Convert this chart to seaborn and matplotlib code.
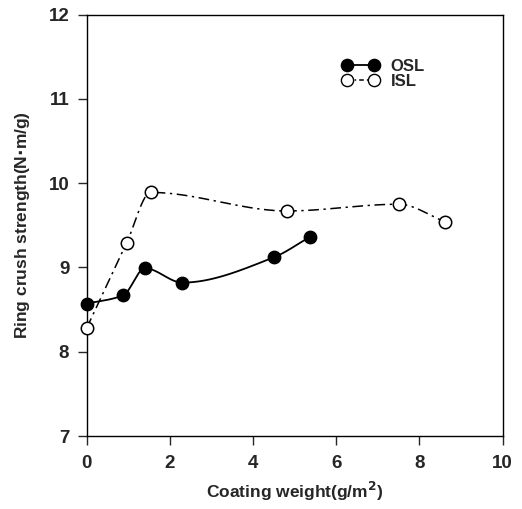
import matplotlib
matplotlib.use("Agg")
import matplotlib.pyplot as plt
from matplotlib.lines import Line2D
import numpy as np
import pandas as pd
import seaborn as sns

# values
osl_x = [0.0, 0.88, 1.40, 2.30, 4.50, 5.36]
osl_y = [8.57, 8.67, 8.99, 8.82, 9.12, 9.36]
isl_x = [0.0, 0.96, 1.54, 4.82, 7.50, 8.62]
isl_y = [8.28, 9.29, 9.89, 9.67, 9.75, 9.54]
x_ticks = [0, 2, 4, 6, 8, 10]
y_ticks = [7, 8, 9, 10, 11, 12]


def smooth(xs, ys, n=400):
    # monotone cubic (pchip) through the points, only to draw the curve
    x = np.asarray(xs, float)
    y = np.asarray(ys, float)
    h = np.diff(x)
    s = np.diff(y) / h
    k = len(x)
    d = np.zeros(k)
    for i in range(1, k - 1):
        if s[i - 1] * s[i] > 0:
            w1 = 2 * h[i] + h[i - 1]
            w2 = h[i] + 2 * h[i - 1]
            d[i] = (w1 + w2) / (w1 / s[i - 1] + w2 / s[i])
    d[0] = s[0]
    d[-1] = s[-1]
    xx = np.linspace(x[0], x[-1], n)
    idx = np.clip(np.searchsorted(x, xx) - 1, 0, k - 2)
    t = (xx - x[idx]) / h[idx]
    h00 = 2 * t ** 3 - 3 * t ** 2 + 1
    h10 = t ** 3 - 2 * t ** 2 + t
    h01 = -2 * t ** 3 + 3 * t ** 2
    h11 = t ** 3 - t ** 2
    yy = (h00 * y[idx] + h10 * h[idx] * d[idx] + h01 * y[idx + 1]
          + h11 * h[idx] * d[idx + 1])
    return pd.DataFrame({"x": xx, "y": yy})


sns.set_style("ticks")
plt.rcParams['font.family'] = ['Liberation Sans', 'DejaVu Sans']
plt.rcParams['font.weight'] = 'bold'

fig = plt.figure(figsize=(5.22, 5.09), dpi=100)
ax = fig.add_axes([0.166, 0.1434, 0.797, 0.828])

dash = (7, 3, 1.5, 3)
sns.lineplot(data=smooth(osl_x, osl_y), x="x", y="y", ax=ax, color="black",
             lw=1.3, sort=False)
sns.lineplot(data=smooth(isl_x, isl_y), x="x", y="y", ax=ax, color="black",
             lw=1.1, sort=False)
ax.lines[-1].set_dashes(dash)

sns.scatterplot(x=osl_x, y=osl_y, ax=ax, s=80, color="black",
                edgecolor="black", linewidth=1, zorder=5, clip_on=False)
sns.scatterplot(x=isl_x, y=isl_y, ax=ax, s=80, color="white",
                edgecolor="black", linewidth=1.1, zorder=5, clip_on=False)

ax.set_xlim(0, 10)
ax.set_ylim(7, 12)
ax.set_xticks(x_ticks)
ax.set_yticks(y_ticks)
ax.tick_params(direction="out", length=6.5, width=1, labelsize=13.5)
ax.tick_params(axis="x", pad=7)
ax.tick_params(axis="y", pad=6)
for lab in ax.get_xticklabels() + ax.get_yticklabels():
    lab.set_fontweight("bold")
for sp in ax.spines.values():
    sp.set_visible(True)
    sp.set_linewidth(1)
    sp.set_color("black")

ax.set_xlabel("Coating weight(g/m$^\\mathbf{2}$)", fontsize=12.5,
              fontweight="bold", labelpad=6)
ax.set_ylabel("Ring crush strength(N$\\cdot$m/g)", fontsize=12.5,
              fontweight="bold", labelpad=12)

h1 = Line2D([], [], color="black", lw=1.3, marker="o", ms=8.8,
            mfc="black", mec="black")
h2 = Line2D([], [], color="black", lw=1.1, marker="o", ms=8.8,
            mfc="white", mec="black", dashes=(3, 2, 1, 2))
ax.legend([h1, h2], ["OSL", "ISL"], loc="upper left",
          bbox_to_anchor=(0.614, 0.895), frameon=False, numpoints=2,
          borderaxespad=0, borderpad=0,
          handlelength=2.2, handletextpad=0.7, labelspacing=0.0,
          prop={"size": 12, "weight": "bold"})

fig.savefig("out.png", dpi=100)
